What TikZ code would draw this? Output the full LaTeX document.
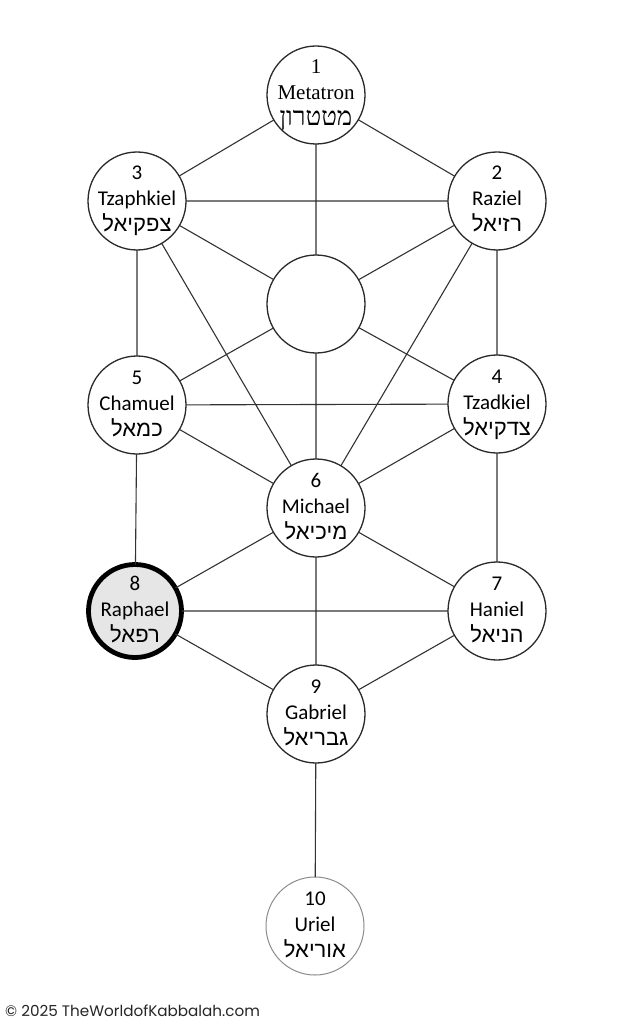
\documentclass[tikz,border=0pt]{standalone}
\usepackage{fontspec}
\setmainfont{Carlito}
\newfontfamily\serifface{Liberation Serif}
\newfontfamily\hebface[Script=Hebrew]{Liberation Sans}
\newfontfamily\hebserif[Script=Hebrew,Scale=1.18]{Liberation Serif}
\newfontfamily\copyface{Poppins}
\TeXXeTstate=1
\definecolor{linecol}{HTML}{333333}
\definecolor{rimcol}{HTML}{2A2A2A}
\definecolor{palerim}{HTML}{8C8C8C}
\definecolor{hodfill}{HTML}{E6E6E6}
\newcommand\sefira[9]{%
  \node[sef,#7] (#1) at (#2,#3) {};
  \node[txt] (#1-num) at ([yshift=21pt]#1.center) {#8#4};
  \node[txt] (#1-name) at ([yshift=-5pt]#1.center) {#8#5};
  \node[txt,font=\fontsize{22}{22}\selectfont] (#1-heb) at ([yshift=-31pt]#1.center) {#9\beginR #6\endR};
}
\begin{document}
\begin{tikzpicture}[x=1pt,y=-1pt,
  sef/.style={circle, draw=rimcol, line width=1.3pt, fill=white, minimum size=98pt, inner sep=0pt, outer sep=0pt},
  txt/.style={anchor=base, inner sep=0pt, font=\fontsize{21}{21}\selectfont},
  link/.style={draw=linecol, line width=1.1pt}]
\fill[white] (0,0) rectangle (633,1024);
\useasboundingbox (0,0) rectangle (633,1024);

\sefira{k1}{316}{95}{1}{Metatron}{מטטרון}{}{\serifface}{\hebserif}
\sefira{k3}{137}{201}{3}{Tzaphkiel}{צפקיאל}{}{}{\hebface}
\sefira{k2}{497}{201}{2}{Raziel}{רזיאל}{}{}{\hebface}
\node[sef] (kd) at (316,304) {};
\sefira{k5}{137}{405}{5}{Chamuel}{כמאל}{}{}{\hebface}
\sefira{k4}{497}{404}{4}{Tzadkiel}{צדקיאל}{}{}{\hebface}
\sefira{k6}{316}{508}{6}{Michael}{מיכיאל}{}{}{\hebface}
\sefira{k8}{135}{611}{8}{Raphael}{רפאל}{line width=4.8pt, draw=black, fill=hodfill, minimum size=93pt}{}{\hebface}
\sefira{k7}{497}{611}{7}{Haniel}{הניאל}{}{}{\hebface}
\sefira{k9}{316}{714}{9}{Gabriel}{גבריאל}{}{}{\hebface}
\sefira{k10}{315}{926}{10}{Uriel}{אוריאל}{draw=palerim, line width=1pt}{}{\hebface}

\path[link] (k1) -- (k3) (k1) -- (k2) (k1) -- (kd)
  (k3) -- (k2) (k3) -- (kd) (k2) -- (kd)
  (k3) -- (k5) (k2) -- (k4) (k3) -- (k6) (k2) -- (k6)
  (kd) -- (k5) (kd) -- (k4) (kd) -- (k6)
  (k5) -- (k4) (k5) -- (k6) (k4) -- (k6)
  (k5) -- (k8) (k4) -- (k7)
  (k6) -- (k8) (k6) -- (k7) (k6) -- (k9)
  (k8) -- (k7) (k8) -- (k9) (k7) -- (k9)
  (k9) -- (k10);

\node[anchor=base west, inner sep=0pt, text=black!85, font=\copyface\fontsize{15.2}{15.2}\selectfont] (copy) at (5,1016) {© 2025 TheWorldofKabbalah.com};
\end{tikzpicture}
\end{document}
